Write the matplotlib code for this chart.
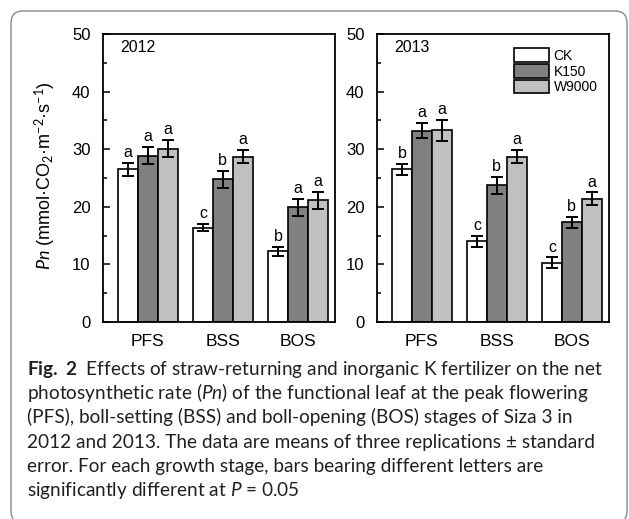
import matplotlib
matplotlib.use('Agg')
import matplotlib.pyplot as plt
from matplotlib.patches import FancyBboxPatch
import numpy as np

# DATA
stages = ['PFS', 'BSS', 'BOS']
treatments = ['CK', 'K150', 'W9000']

# rows = treatments (CK, K150, W9000), columns = stages
pn_2012 = [[26.5, 16.4, 12.3], [28.9, 24.8, 19.9], [30.1, 28.7, 21.1]]
se_2012 = [[1.1, 0.6, 0.8], [1.5, 1.5, 1.5], [1.5, 1.1, 1.5]]
let_2012 = [['a', 'c', 'b'], ['a', 'b', 'a'], ['a', 'a', 'a']]

pn_2013 = [[26.5, 14.0, 10.3], [33.2, 23.7, 17.3], [33.3, 28.7, 21.4]]
se_2013 = [[1.0, 0.9, 0.9], [1.3, 1.5, 0.9], [1.8, 1.1, 1.1]]
let_2013 = [['b', 'c', 'c'], ['a', 'b', 'b'], ['a', 'a', 'a']]

years = ['2012', '2013']

caption = [
    r'$\mathbf{Fig.\ 2}$  Effects of straw-returning and inorganic K fertilizer on the net',
    r'photosynthetic rate ($\mathit{Pn}$) of the functional leaf at the peak flowering',
    '(PFS), boll-setting (BSS) and boll-opening (BOS) stages of Siza 3 in',
    '2012 and 2013. The data are means of three replications \u00b1 standard',
    'error. For each growth stage, bars bearing different letters are',
    r'significantly different at $\mathit{P}$ = 0.05',
]

# STYLE
W, H = 629, 519
colors = ['white', '#808080', '#c0c0c0']
chart_font = 'Liberation Sans'
cap_font = 'Lato'
plt.rcParams['font.family'] = chart_font
plt.rcParams['mathtext.fontset'] = 'custom'
plt.rcParams['mathtext.rm'] = cap_font
plt.rcParams['mathtext.it'] = cap_font + ':italic'
plt.rcParams['mathtext.bf'] = cap_font + ':bold'


def px(x0, y0, x1, y1):
    return [x0 / W, 1 - y1 / H, (x1 - x0) / W, (y1 - y0) / H]


fig = plt.figure(figsize=(W / 100, H / 100), dpi=100)

# rounded frame around figure + caption
frame = FancyBboxPatch((0.11, -0.04), 6.16, 5.12,
                       boxstyle='round,pad=0,rounding_size=0.12',
                       transform=fig.dpi_scale_trans, facecolor='none',
                       edgecolor='#8a8a8a', linewidth=1.0)
fig.patches.append(frame)

ax1 = fig.add_axes(px(103, 34, 335, 322))
ax2 = fig.add_axes(px(377, 34, 609, 322))

w = 0.265
x = np.arange(1, len(stages) + 1)


def panel(ax, pn, se, lets, year, legend=False):
    for i, t in enumerate(treatments):
        xi = x + (i - 1) * w
        ax.bar(xi, pn[i], width=w, color=colors[i], edgecolor='black',
               linewidth=1.2, label=t, zorder=2)
        ax.errorbar(xi, pn[i], yerr=se[i], fmt='none', ecolor='black',
                    elinewidth=1.4, capsize=4, capthick=1.4, zorder=3)
        for xx, v, e, l in zip(xi, pn[i], se[i], lets[i]):
            ax.text(xx, v + e + 0.5, l, ha='center', va='bottom', fontsize=11.5)
    ax.set_xlim(0.4025, 3.4958)
    ax.set_ylim(0, 50)
    ax.set_xticks(x)
    ax.set_xticklabels(stages, fontsize=12.5)
    ax.set_yticks(np.arange(0, 51, 10))
    ax.set_yticks(np.arange(5, 50, 10), minor=True)
    ax.tick_params(axis='y', which='both', direction='in', labelsize=12, pad=9)
    ax.tick_params(axis='y', which='major', length=5, width=1.1)
    ax.tick_params(axis='y', which='minor', length=3, width=1.1)
    ax.tick_params(axis='x', length=0, pad=9)
    for s in ax.spines.values():
        s.set_linewidth(1.3)
    ax.text(0.073, 47.6, year, ha='left', va='center', fontsize=11.5,
            transform=ax.get_yaxis_transform())
    if legend:
        ax.legend(loc='upper left', bbox_to_anchor=(0.59, 0.95), frameon=False,
                  fontsize=10, handlelength=2.5, handleheight=1.1,
                  labelspacing=0.1, handletextpad=0.35, borderpad=0,
                  borderaxespad=0)


panel(ax1, pn_2012, se_2012, let_2012, years[0])
panel(ax2, pn_2013, se_2013, let_2013, years[1], legend=True)

fig.text(45 / W, 1 - 176 / H,
         r'$\mathit{Pn}$ (mmol·CO$_2$·m$^{-2}$·s$^{-1}$)',
         rotation=90, ha='center', va='center', fontsize=13)

# caption, sized so that the first line spans the frame width
renderer = fig.canvas.get_renderer()
probe = fig.text(0, 0, caption[0], fontsize=10, family=cap_font)
cap_size = 10 * 575 / probe.get_window_extent(renderer).width
probe.remove()
for k, line in enumerate(caption):
    fig.text(27 / W, 1 - (375 + k * 24.2) / H, line, fontsize=cap_size,
             family=cap_font, color='#231f20', va='baseline', ha='left')

fig.savefig('out.png', dpi=100)
